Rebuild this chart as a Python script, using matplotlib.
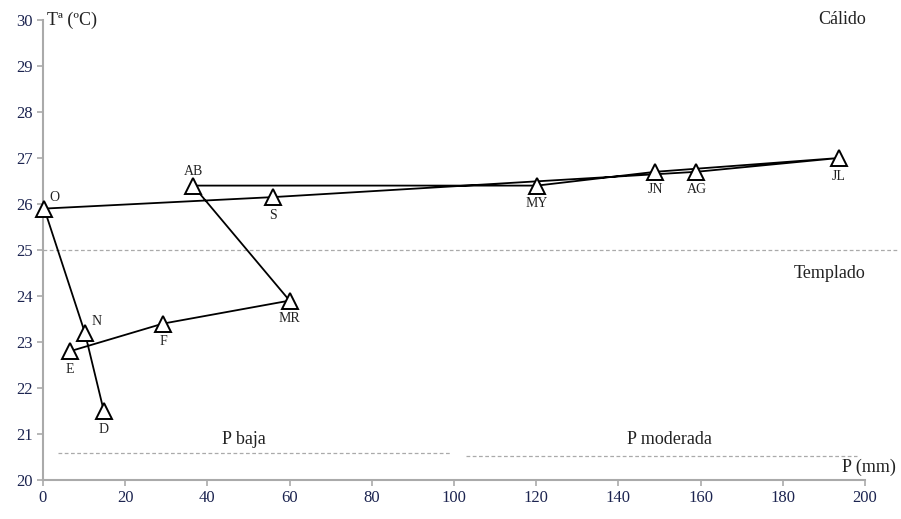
import matplotlib
matplotlib.use("Agg")
import matplotlib.pyplot as plt

# datos mensuales (orden de la línea: E ... D)
meses = ["E", "F", "MR", "AB", "MY", "JN", "JL", "AG", "S", "O", "N", "D"]
precip = [6.6, 29.2, 60.0, 36.5, 120.2, 149.0, 193.7, 159.0, 56.0, 0.3, 10.2, 14.8]
temp = [22.8, 23.4, 23.9, 26.4, 26.4, 26.7, 27.0, 26.7, 26.15, 25.9, 23.2, 21.5]

xticks = [0, 20, 40, 60, 80, 100, 120, 140, 160, 180, 200]
yticks = [20, 21, 22, 23, 24, 25, 26, 27, 28, 29, 30]

plt.rcParams['font.family'] = ['Liberation Serif', 'DejaVu Serif']

fig = plt.figure(figsize=(9.01, 5.19), dpi=100)
ax = fig.add_axes([0.0477, 0.0751, 0.9123, 0.8864])

ax.plot(precip, temp, color="black", lw=1.3, marker="^", ms=11,
        mfc="white", mec="black", mew=1.4, zorder=3, clip_on=False)

# etiquetas de los meses
arriba = {"AB": (0, 10), "O": (4, 8), "N": (5, 8)}
for m, x, y in zip(meses, precip, temp):
    dx, dy = arriba.get(m, (0, -13))
    ha = "left" if m in ("O", "N") else "center"
    ax.annotate(m, (x, y), xytext=(dx, dy), textcoords="offset points",
                ha=ha, va="center", fontsize=10, color="#222222")

# límites de zonas
gris = "#aaaaaa"
ax.plot([0, 208], [25, 25], ls=(0, (3, 2)), color=gris, lw=0.9, clip_on=False)
ax.plot([3.6, 99], [20.59, 20.59], ls=(0, (3, 2)), color=gris, lw=0.9)
ax.plot([103, 198], [20.52, 20.52], ls=(0, (3, 2)), color=gris, lw=0.9)

ax.text(49, 20.87, "P baja", ha="center", va="center", fontsize=13, color="#222222")
ax.text(152.5, 20.87, "P moderada", ha="center", va="center", fontsize=13, color="#222222")
ax.text(207.5, 20.28, "P (mm)", ha="right", va="center", fontsize=13, color="#222222")
ax.text(194.4, 30.0, "Cálido", ha="center", va="center", fontsize=13, color="#222222")
ax.text(191.5, 24.48, "Templado", ha="center", va="center", fontsize=13, color="#222222")
ax.text(1, 30.0, "Tª (ºC)", ha="left", va="center", fontsize=13, color="#222222")

ax.set_xlim(0, 200)
ax.set_ylim(20, 30)
ax.set_xticks(xticks)
ax.set_yticks(yticks)
ax.tick_params(colors=gris, labelcolor="#1c2450", labelsize=12, length=4, width=1.2)
for s in ("top", "right"):
    ax.spines[s].set_visible(False)
for s in ("left", "bottom"):
    ax.spines[s].set_color(gris)
    ax.spines[s].set_linewidth(1.5)

fig.savefig("out.png", dpi=100)
